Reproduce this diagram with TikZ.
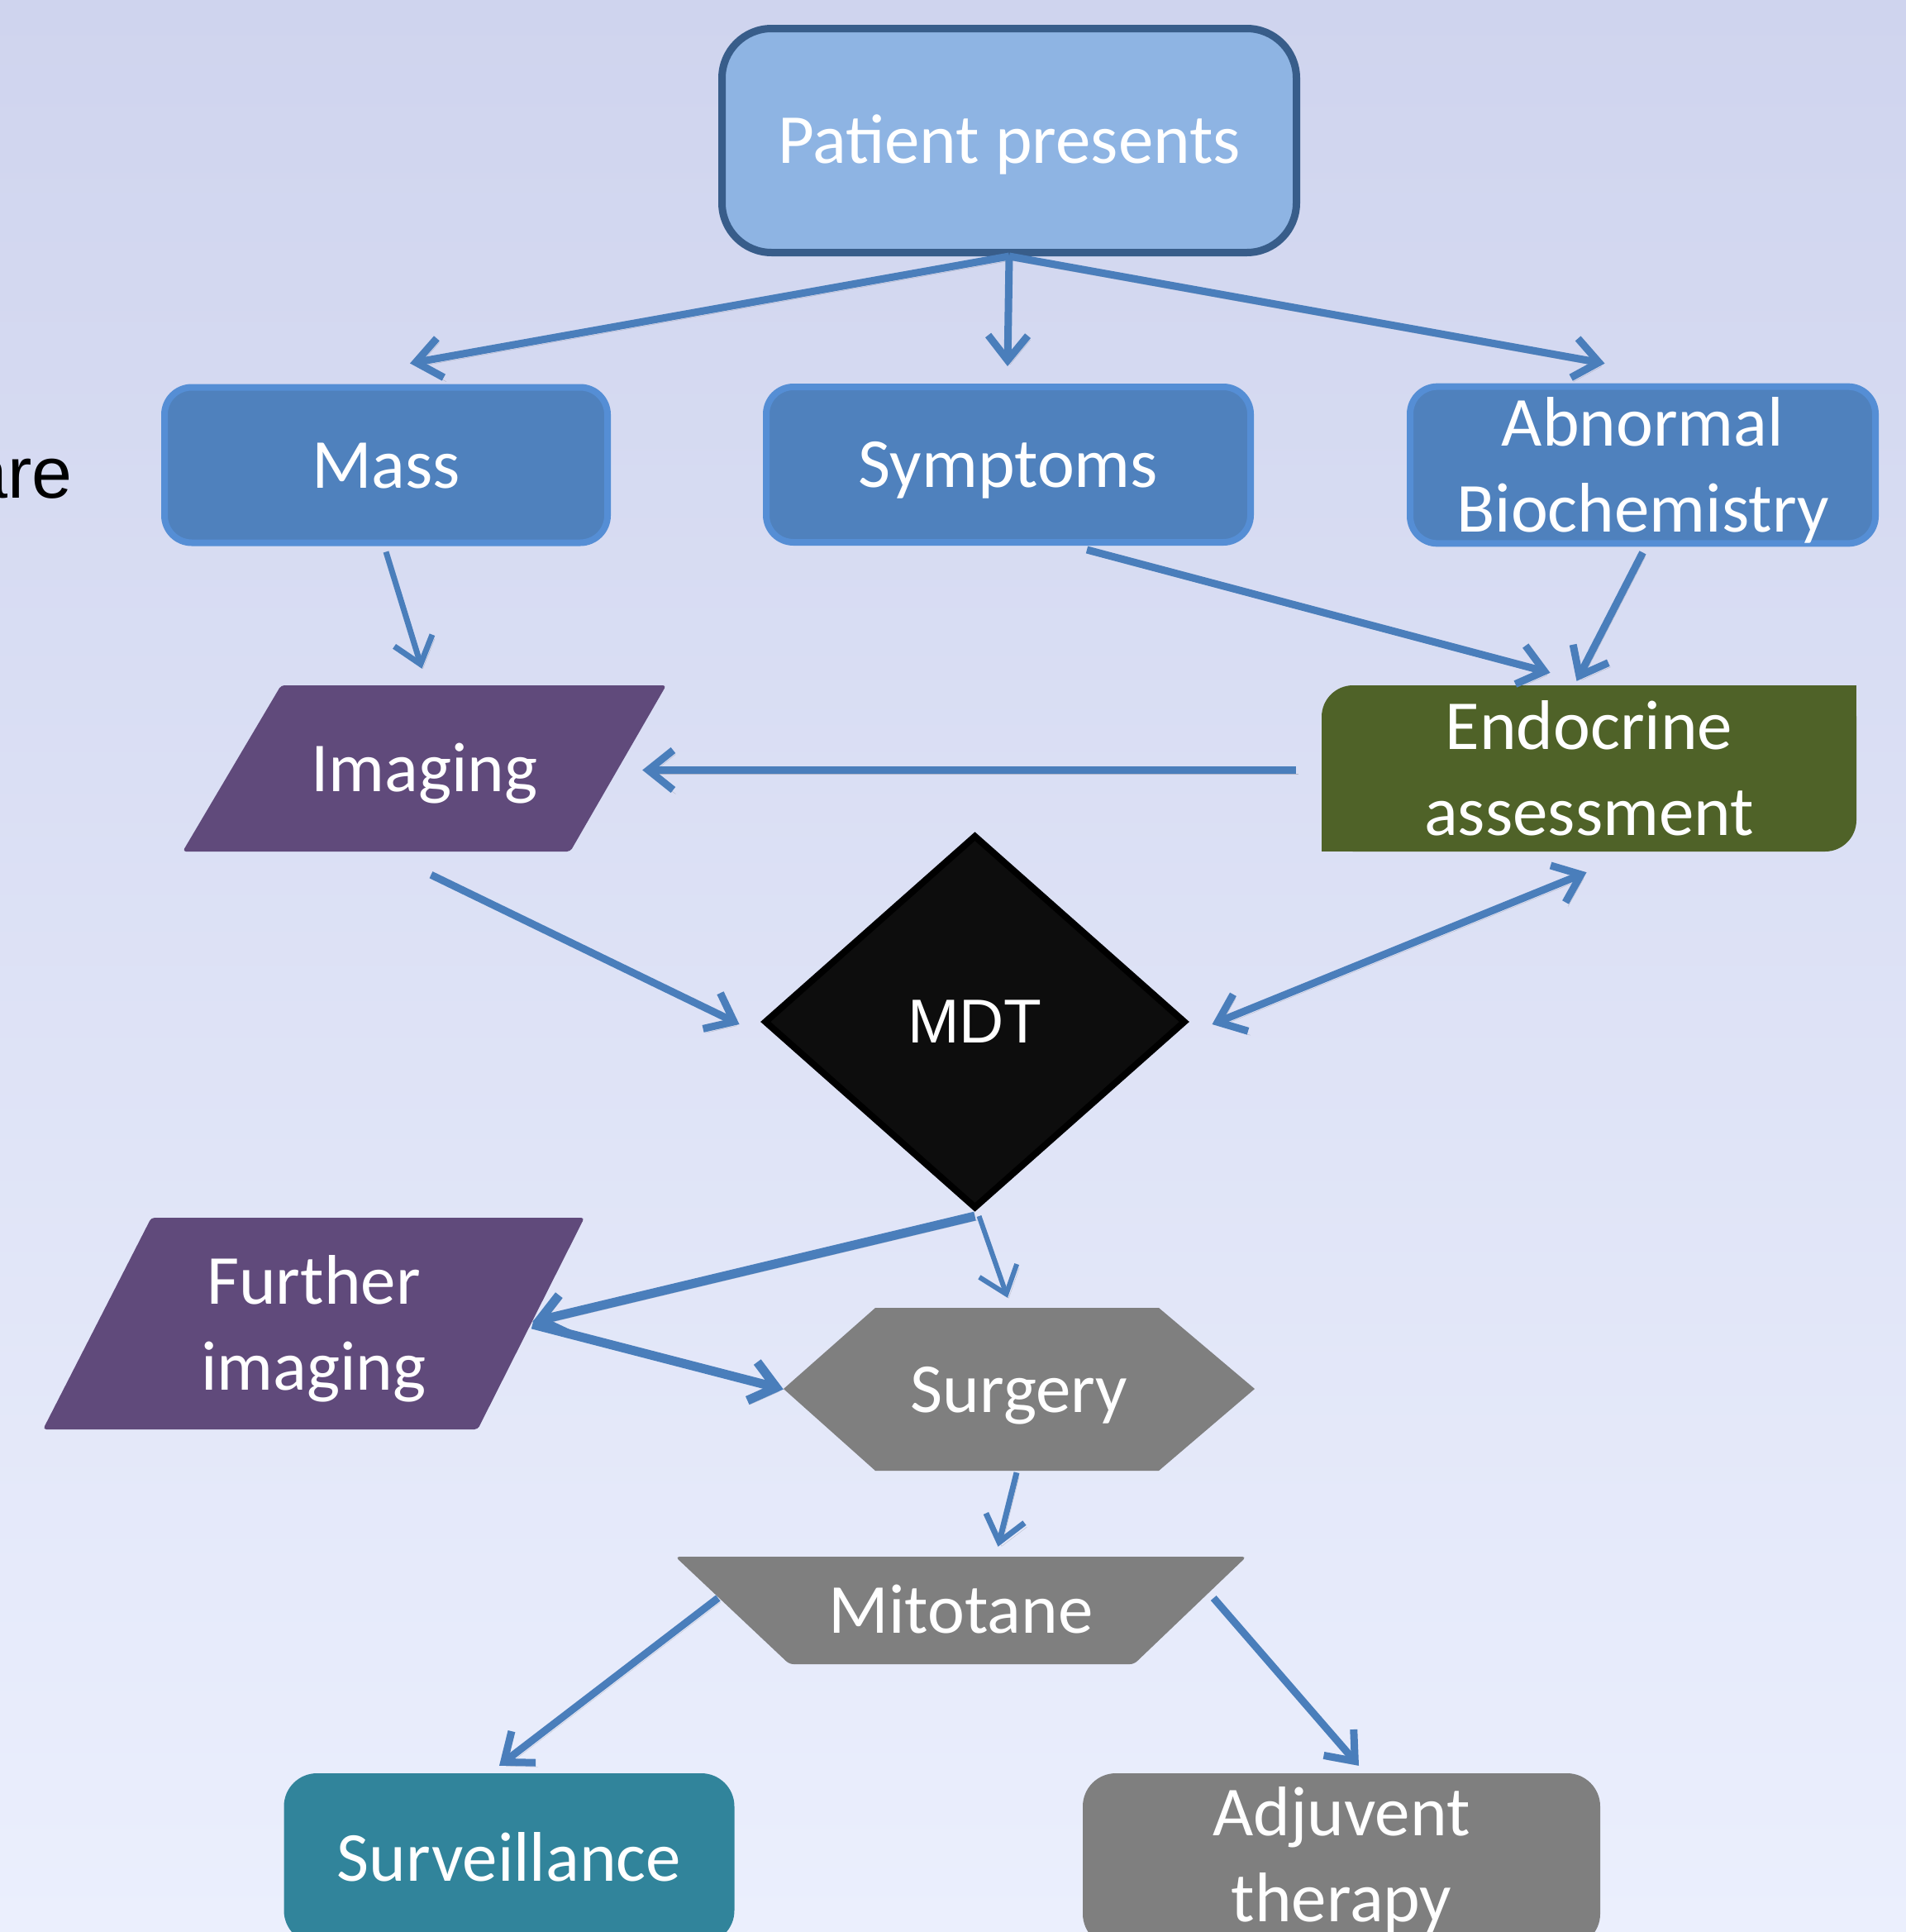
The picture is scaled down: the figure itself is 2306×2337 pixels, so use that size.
\documentclass[tikz,border=0pt]{standalone}
\usepackage{fontspec}
\setmainfont{Carlito}
\newfontfamily\arialfont{Liberation Sans}
\usetikzlibrary{arrows.meta,calc,shapes.geometric}
\definecolor{bgtop}{HTML}{CFD4EE}
\definecolor{bgmid}{HTML}{E3E7F9}
\definecolor{bgbot}{HTML}{EBEFFD}
\definecolor{ppfill}{HTML}{8EB4E3}
\definecolor{ppline}{HTML}{385D8A}
\definecolor{bluefill}{HTML}{4F81BD}
\definecolor{blueline}{HTML}{558ED5}
\definecolor{purplefill}{HTML}{604A7B}
\definecolor{olivefill}{HTML}{4F6228}
\definecolor{greyfill}{HTML}{7F7F7F}
\definecolor{tealfill}{HTML}{31849B}
\definecolor{mdtfill}{HTML}{0D0D0D}
\definecolor{arrowblue}{HTML}{4A7EBB}
\begin{document}
\begin{tikzpicture}[x=1pt,y=-1pt,
  txt/.style={text=white,font=\fontsize{85}{104}\selectfont,align=center,inner sep=0pt},
  oneline/.style={text height=55pt,text depth=0pt},
  bluebox/.style={txt,fill=bluefill,draw=blueline,line width=8pt,rounded corners=33pt,minimum height=188pt},
  frame/.style={txt,draw=none,minimum width=#1},
  shadowed/.style={preaction={draw=black,draw opacity=0.18,transform canvas={shift={(3pt,-5pt)}}}},
  conn/.style={shadowed,draw=arrowblue,line width=9pt,-{Straight Barb[length=30pt,width=48pt]}},
  conntwo/.style={shadowed,draw=arrowblue,line width=9pt,{Straight Barb[length=30pt,width=48pt]}-{Straight Barb[length=30pt,width=48pt]}},
]
\useasboundingbox (0,0) rectangle (2306,2337);
\clip (0,0) rectangle (2306,2337);
\shade[top color=bgtop,middle color=bgmid,bottom color=bgbot] (0,0) rectangle (2306,2337);

% left fragment of text
\node[font=\arialfont\fontsize{88}{100}\selectfont,anchor=base east,inner sep=0pt] (are) at (88,602) {are};

% top
\node[txt,oneline,fill=ppfill,draw=ppline,line width=9pt,rounded corners=60pt,minimum width=695pt,minimum height=271pt] (pp) at (1221,170) {Patient presents};

% second row
\node[bluebox,oneline,minimum width=536pt] (mass) at (467,562.5) {Mass};
\node[bluebox,oneline,minimum width=586pt] (symp) at (1220,562) {Symptoms};
\node[bluebox,minimum width=563pt] (abn) at (1987.5,562.5) {\rule{0pt}{72pt}Abnormal\\Biochemistry};

% imaging parallelogram
\fill[purplefill,rounded corners=4pt] (340,829) -- (806,829) -- (690,1030) -- (221,1030) -- cycle;
\node[frame=585pt,oneline,minimum height=201pt] (img) at (513.5,929.5) {Imaging};

% endocrine
\node[txt,fill=olivefill,rounded corners=38pt,minimum width=647pt,minimum height=201pt] (endo) at (1922.5,929.5) {Endocrine\\assessment};
\fill[olivefill] (2200,829) rectangle (2246,875);
\fill[olivefill] (1599,984) rectangle (1645,1030);

% MDT
\node[shape=diamond,fill=mdtfill,draw=black,line width=8pt,minimum width=510pt,minimum height=452pt,inner sep=0pt,text=white,font=\arialfont\fontsize{75}{90}\selectfont] (mdt) at (1179.5,1236) {MDT};

% further imaging
\fill[purplefill,rounded corners=4pt] (183,1473) -- (707,1473) -- (578,1729) -- (52,1729) -- cycle;
\node[frame=655pt,minimum height=256pt] (furth) at (379.5,1601) {\rule{0pt}{72pt}Further\\imaging};

% surgery hexagon
\fill[greyfill] (948,1680) -- (1059,1582) -- (1402,1582) -- (1518,1680) -- (1402,1779) -- (1059,1779) -- cycle;
\node[frame=570pt,oneline,minimum height=197pt] (surg) at (1233,1680.5) {Surgery};

% mitotane trapezoid
\fill[greyfill,rounded corners=5pt] (817,1883) -- (1508,1883) -- (1372,2013) -- (955,2013) -- cycle;
\node[frame=691pt,oneline,minimum height=130pt] (mito) at (1162.5,1948) {Mitotane};

% bottom row
\node[txt,oneline,fill=tealfill,rounded corners=40pt,minimum width=545pt,minimum height=206pt] (surv) at (616,2248) {Surveillance};
\node[txt,fill=greyfill,rounded corners=40pt,minimum width=626pt,minimum height=210pt] (adj) at (1623,2250) {Adjuvent\\therapy};

% connectors
\draw[conn] (pp.south) -- ($(mass.north)+(29,-25)$);
\draw[conn] (pp.south) -- ($(symp.north)+(-1,-21)$);
\draw[conn] (pp.south) -- ($(abn.north)+(-46,-24)$);
\draw[conn,line width=7pt] ($(mass.south)+(0,7)$) -- ($(img.north)+(-3,-20)$);
\draw[conn] ($(symp.south)+(95,5)$) -- ($(endo.north)+(-47,-15)$);
\draw[conn] ($(abn.south)+(0,7)$) -- ($(endo.north)+(-15,-5)$);
\draw[conn] ($(endo.west)+(-31,2)$) -- ($(img.east)+(-29,2)$);
\draw[conn] ($(img.south)+(8,28)$) -- ($(mdt.west)+(-26,3)$);
\draw[conntwo] ($(mdt.east)+(28,3)$) -- ($(endo.south)+(-3,25)$);
\draw[conn,line width=11pt] ($(mdt.south)+(0,5)$) -- ($(furth.east)+(-63,-2)$);
\draw[conn,line width=6pt] ($(mdt.south)+(5,5)$) -- ($(surg.north)+(-14,-12)$);
\draw[conn,line width=11pt] ($(furth.east)+(-63,1)$) -- (surg.west);
\draw[conn,line width=7pt] ($(surg.south)+(-3,2)$) -- ($(mito.north)+(45,-12)$);
\draw[conn] ($(mito.west)+(52,-15)$) -- ($(surv.north)+(-12,-9)$);
\draw[conn] ($(mito.east)+(-40,-15)$) -- ($(adj.north)+(21,-9)$);
\end{tikzpicture}
\end{document}
